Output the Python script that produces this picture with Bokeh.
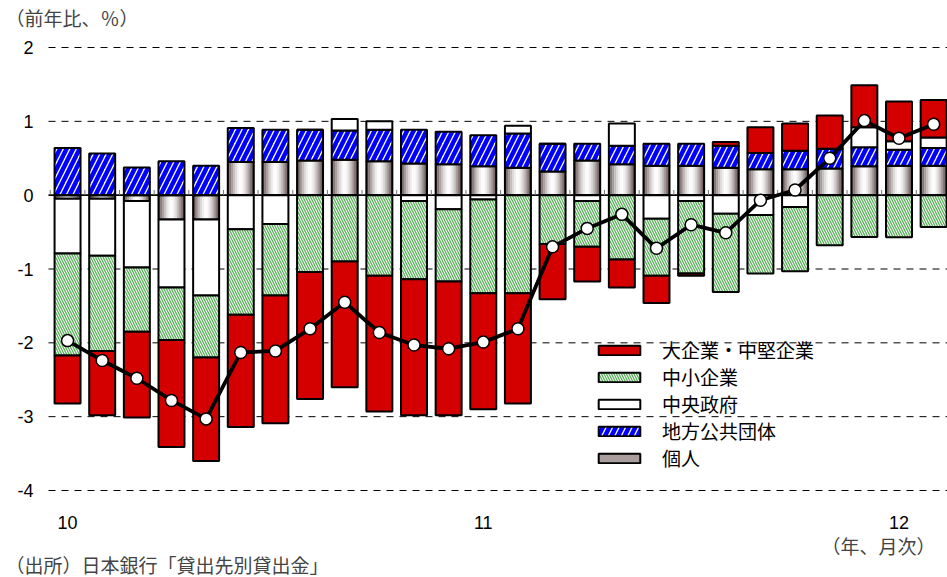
import numpy as np
from bokeh.plotting import figure
from bokeh.models import ColumnDataSource, Label, Legend, LegendItem
from bokeh.core.properties import value
from bokeh.transform import dodge
from bokeh.embed import file_html
from bokeh.resources import INLINE

# ---------------- data ----------------
months = ["2010-01", "2010-02", "2010-03", "2010-04", "2010-05", "2010-06",
          "2010-07", "2010-08", "2010-09", "2010-10", "2010-11", "2010-12",
          "2011-01", "2011-02", "2011-03", "2011-04", "2011-05", "2011-06",
          "2011-07", "2011-08", "2011-09", "2011-10", "2011-11", "2011-12",
          "2012-01", "2012-02"]
# 個人
kojin = [-0.05, -0.05, -0.08, -0.33, -0.33, 0.45, 0.45, 0.47, 0.48, 0.46, 0.43, 0.42, 0.39,
         0.37, 0.32, 0.47, 0.42, 0.40, 0.40, 0.37, 0.35, 0.35, 0.36, 0.39, 0.40, 0.40]
# 地方公共団体
chiho = [0.64, 0.565, 0.375, 0.46, 0.40, 0.46, 0.435, 0.415, 0.395, 0.425, 0.455, 0.44, 0.42,
         0.465, 0.375, 0.225, 0.25, 0.295, 0.295, 0.30, 0.22, 0.25, 0.27, 0.26, 0.215, 0.24]
# 中央政府
chuo = [-0.74, -0.77, -0.90, -0.92, -1.03, -0.46, -0.39, 0.0, 0.155, 0.115, -0.08, -0.19, -0.06,
        0.105, 0.0, -0.08, 0.30, -0.32, -0.08, -0.25, -0.27, -0.16, 0.0, 0.27, 0.115, 0.14]
# 中小企業
chusho = [-1.38, -1.29, -0.87, -0.71, -0.84, -1.16, -0.97, -1.04, -0.90, -1.09, -1.06, -0.98, -1.27,
          -1.33, -0.66, -0.62, -0.87, -0.77, -0.98, -1.06, -0.79, -0.87, -0.68, -0.565, -0.57, -0.43]
# 大企業・中堅企業
daikigyo = [-0.65, -0.87, -1.16, -1.45, -1.40, -1.52, -1.73, -1.72, -1.70, -1.84, -1.84, -1.81, -1.57,
            -1.49, -0.75, -0.47, -0.38, -0.37, -0.03, 0.05, 0.35, 0.37, 0.45, 0.57, 0.54, 0.51]
# 総貸出（前年比）
total = [-1.97, -2.24, -2.48, -2.78, -3.03, -2.13, -2.11, -1.81, -1.45, -1.86, -2.03, -2.08, -1.99,
         -1.81, -0.70, -0.45, -0.26, -0.72, -0.40, -0.51, -0.07, 0.07, 0.50, 1.01, 0.77, 0.96]

year_ticks = [0, 12, 24]
year_labels = ["10", "11", "12"]
y_ticks = [2, 1, 0, -1, -2, -3, -4]
y_tick_labels = ["2", "1", "0", "-1", "-2", "-3", "-4"]

series_names = ["個人", "地方公共団体", "中央政府", "中小企業", "大企業・中堅企業"]
series_vals = [kojin, chiho, chuo, chusho, daikigyo]

# ---------------- stacking (positive / negative separately) ----------------
n = len(months)
xs = np.arange(n)
pos = np.zeros(n)
neg = np.zeros(n)
stacks = []
for vals in series_vals:
    v = np.array(vals, dtype=float)
    bottom = np.where(v >= 0, pos, neg)
    top = bottom + v
    pos = np.where(v >= 0, top, pos)
    neg = np.where(v < 0, top, neg)
    stacks.append(ColumnDataSource(dict(x=xs, bottom=bottom, top=top)))

JP = "Noto Sans CJK JP"
NUM = "Liberation Sans"

# plotting area in data units, and full canvas extents
X0, X1 = -0.55, 25.4
Y0, Y1 = -4.0, 2.0
W, H = 947, 577
L_PAD, B_PAD, T_PAD = 48, 87, 47
ppx = (W - L_PAD) / (X1 - X0)
ppy = (H - T_PAD - B_PAD) / (Y1 - Y0)
XL = X0 - L_PAD / ppx
YB = Y0 - B_PAD / ppy
YT = Y1 + T_PAD / ppy


def sx(px):
    return XL + px / ppx


def sy(py):
    return YT - py / ppy


p = figure(width=W, height=H, output_backend="svg", toolbar_location=None,
           x_range=(XL, X1), y_range=(YB, YT),
           min_border=0, x_axis_type=None, y_axis_type=None)
p.outline_line_color = None
p.background_fill_color = "white"
p.border_fill_color = "white"
p.xgrid.visible = False
p.ygrid.visible = False

# dashed gridlines (not at zero)
gy = [t for t in y_ticks if t != 0]
p.segment(x0=[X0] * len(gy), x1=[X1] * len(gy), y0=gy, y1=gy,
          line_color="black", line_width=1, line_dash="7 6")

BW = 0.75
red = "#D40000"

# 個人 : gradient bar (strips)
nstrip = 14
kojin_src = stacks[0]
dark = np.array([78, 58, 58])
for j in range(nstrip):
    t = (j + 0.5) / nstrip * 2 - 1
    f = 1 - abs(t) ** 1.6
    c = dark + (255 - dark) * f
    col = "#%02x%02x%02x" % tuple(int(round(a)) for a in c)
    off = -BW / 2 + (j + 0.5) * BW / nstrip
    p.vbar(x=dodge("x", off), width=BW / nstrip + 0.002, top="top", bottom="bottom",
           source=kojin_src, fill_color=col, line_color=col, line_width=0.3)
p.vbar(x="x", width=BW, top="top", bottom="bottom", source=kojin_src,
       fill_color=None, line_color="black", line_width=2)

r_chiho = p.vbar(x="x", width=BW, top="top", bottom="bottom", source=stacks[1],
                 fill_color="white", hatch_pattern="/", hatch_color="#0000FF",
                 hatch_weight=4.5, hatch_scale=13, line_color="black", line_width=2)
r_chuo = p.vbar(x="x", width=BW, top="top", bottom="bottom", source=stacks[2],
                fill_color="white", line_color="black", line_width=2)
r_chusho = p.vbar(x="x", width=BW, top="top", bottom="bottom", source=stacks[3],
                  fill_color="white", hatch_pattern="\\", hatch_color="#5BAF5B",
                  hatch_weight=1.3, hatch_scale=5, line_color="black", line_width=2)
r_dai = p.vbar(x="x", width=BW, top="top", bottom="bottom", source=stacks[4],
               fill_color=red, line_color="black", line_width=2)

# zero line and month ticks
p.segment(x0=[X0], x1=[X1], y0=[0], y1=[0], line_color="black", line_width=1.6)
bounds = np.arange(n + 1) - 0.5
p.segment(x0=bounds, x1=bounds, y0=np.zeros(n + 1), y1=np.full(n + 1, 0.07),
          line_color="#777777", line_width=1)

# legend-only swatch for 個人
r_kojin_leg = p.vbar(x=[0], width=0, top=[0], bottom=[0], fill_color="#a89c9c",
                     line_color="black", line_width=2)

# total line
tsrc = ColumnDataSource(dict(x=xs, y=total))
p.line("x", "y", source=tsrc, line_color="black", line_width=3.8)
p.scatter("x", "y", source=tsrc, size=12, fill_color="white", line_color="black",
          line_width=1.5)

# tick labels
p.text(x=[sx(33)] * len(y_ticks), y=y_ticks, text=y_tick_labels,
       text_font=value(NUM), text_font_size="18px", text_align="right",
       text_baseline="middle", text_color="black")
p.text(x=year_ticks, y=[sy(522)] * len(year_ticks), text=year_labels,
       text_font=value(NUM), text_font_size="18px", text_align="center",
       text_baseline="middle", text_color="black")

legend = Legend(items=[
    LegendItem(label="大企業・中堅企業", renderers=[r_dai]),
    LegendItem(label="中小企業", renderers=[r_chusho]),
    LegendItem(label="中央政府", renderers=[r_chuo]),
    LegendItem(label="地方公共団体", renderers=[r_chiho]),
    LegendItem(label="個人", renderers=[r_kojin_leg]),
], location=(593, 106), orientation="vertical")
legend.background_fill_alpha = 0
legend.border_line_alpha = 0
legend.padding = 0
legend.margin = 0
legend.spacing = 0
legend.glyph_width = 52
legend.glyph_height = 12
legend.label_height = 21
legend.label_standoff = 17
legend.label_text_font = JP
legend.label_text_font_size = "19px"
legend.label_text_color = "black"
p.add_layout(legend, "center")

# texts
p.add_layout(Label(x=sx(5), y=sy(17), text="（前年比、％）", text_font=JP,
                   text_font_size="19px", text_baseline="middle", text_align="left"))
p.add_layout(Label(x=sx(935), y=sy(545), text="（年、月次）", text_font=JP,
                   text_font_size="19px", text_baseline="middle", text_align="right"))
p.add_layout(Label(x=sx(5), y=sy(564), text="（出所）日本銀行「貸出先別貸出金」", text_font=JP,
                   text_font_size="19px", text_baseline="middle", text_align="left"))

open("out.html", "w").write(file_html(p, INLINE))
